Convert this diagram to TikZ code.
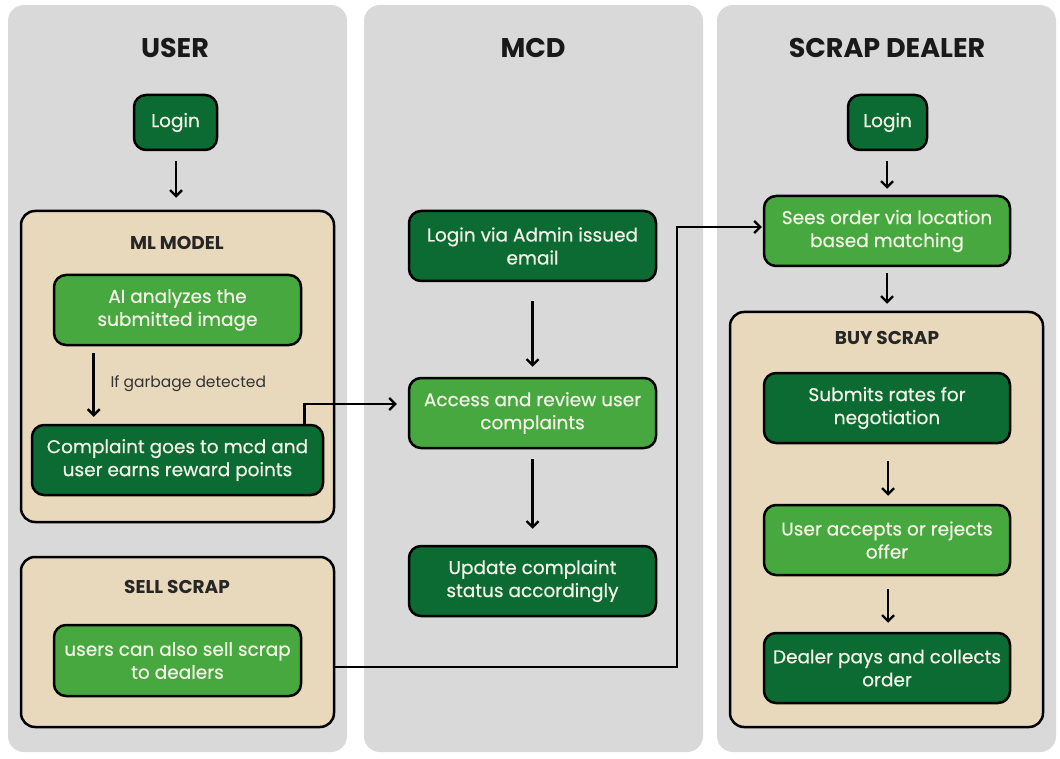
\documentclass[tikz,border=0pt]{standalone}
\usepackage{fontspec}
\setmainfont{Poppins}
\newfontfamily\boxfont{Poppins}[FakeBold=0.6]
\usetikzlibrary{arrows.meta,calc,positioning}
\definecolor{dgreen}{HTML}{0B6B33}
\definecolor{lgreen}{HTML}{47A83F}
\definecolor{beige}{HTML}{E8D9BC}
\definecolor{colgray}{HTML}{D9D9D9}
\definecolor{boxtext}{HTML}{F2F2E6}
\definecolor{lbltext}{HTML}{333333}
\begin{document}
\begin{tikzpicture}[x=1pt,y=-1pt,
  column/.style={fill=colgray,rounded corners=16pt,minimum width=339pt,minimum height=747pt,inner sep=0pt},
  section/.style={draw=black,fill=beige,line width=2.5pt,rounded corners=14pt,inner sep=0pt},
  stepbox/.style={draw=black,line width=2.5pt,rounded corners=12pt,align=center,text=boxtext,
     font=\boxfont\fontsize{18.5}{23}\selectfont,inner sep=0pt,minimum width=247pt,minimum height=70pt},
  darkbox/.style={stepbox,fill=dgreen},
  lightbox/.style={stepbox,fill=lgreen},
  coltitle/.style={font=\fontsize{27}{30}\selectfont\bfseries,text=black!90},
  sectitle/.style={font=\fontsize{18.5}{21}\selectfont\bfseries,text=black!85},
  arr/.style={-{Straight Barb[length=6pt,width=12pt,line width=2.3pt]},line width=2.6pt,black}]
\useasboundingbox[fill=white] (0,0) rectangle (1060,759);
% columns
\node[column] (c1) at (177.5,378.5) {};
\node[column] (c2) at (533.5,378.5) {};
\node[column] (c3) at (886.5,378.5) {};
\node[coltitle] (t1) at (175,48) {USER};
\node[coltitle] (t2) at (533,48) {MCD};
\node[coltitle] (t3) at (887,48) {SCRAP DEALER};
% USER column
\node[darkbox,minimum width=83pt,minimum height=55pt] (ulogin) at (175.5,122.5) {Login};
\node[section,minimum width=313pt,minimum height=311pt] (ml) at (177.5,366.5) {};
\node[sectitle] (mltitle) at (177,243) {ML MODEL};
\node[lightbox] (ai) at (177.5,310) {AI analyzes the\\submitted image};
\node[font=\fontsize{15.5}{18}\selectfont,text=lbltext,anchor=west] (garb) at (107,384) {If garbage detected};
\node[darkbox,minimum width=291pt] (complaint) at (177.5,460) {Complaint goes to mcd and\\user earns reward points};
\node[section,minimum width=313pt,minimum height=170pt] (sell) at (177.5,642) {};
\node[sectitle] (selltitle) at (177,587) {SELL SCRAP};
\node[lightbox,minimum height=71pt] (sellnode) at (177.5,660.5) {users can also sell scrap\\to dealers};
% MCD column
\node[darkbox] (mlogin) at (532.5,246) {Login via Admin issued\\email};
\node[lightbox] (access) at (532.5,413) {Access and review user\\complaints};
\node[darkbox] (update) at (532.5,581) {Update complaint\\status accordingly};
% SCRAP DEALER column
\node[darkbox,minimum width=79pt,minimum height=55pt] (dlogin) at (887.5,122.5) {Login};
\node[lightbox,minimum width=246pt] (sees) at (887,231) {Sees order via location\\based matching};
\node[section,minimum width=313pt,minimum height=415pt] (buy) at (886.5,519.5) {};
\node[sectitle] (buytitle) at (887,338) {BUY SCRAP};
\node[darkbox,minimum width=246pt] (submits) at (887,408) {Submits rates for\\negotiation};
\node[lightbox,minimum width=246pt] (accepts) at (887,540) {User accepts or rejects\\offer};
\node[darkbox,minimum width=246pt] (pays) at (887,668) {Dealer pays and collects\\order};
% connectors
\draw[arr] ($(ulogin.south)+(0.5,10)$) -- ($(ulogin.south |- ml.north)+(0.5,-12)$);
\draw[arr] ($(ai.south west)+(41,7)$) -- ($(complaint.north west)+(63,-7)$);
\draw[arr] ($(complaint.north east)+(-20,0)$) |- ($(access.west)+(-11,-9)$);
\coordinate (j1) at (677,667);
\draw[arr] (sell.east |- j1) -- (j1) |- ($(sees.west)+(-1,-4)$);
\draw[arr] ($(mlogin.south)+(0,19)$) -- ($(access.north)+(0,-10)$);
\draw[arr] ($(access.south)+(0,10)$) -- ($(update.north)+(0,-16)$);
\draw[arr] ($(dlogin.south)+(-0.5,10)$) -- ($(dlogin.south |- sees.north)+(-0.5,-6)$);
\draw[arr] ($(sees.south)+(0,6)$) -- ($(buy.north -| sees.south)+(0,-7)$);
\draw[arr] ($(submits.south)+(1,17)$) -- ($(accepts.north)+(1,-8)$);
\draw[arr] ($(accepts.south)+(1,13)$) -- ($(pays.north)+(1,-9)$);
\end{tikzpicture}
\end{document}
